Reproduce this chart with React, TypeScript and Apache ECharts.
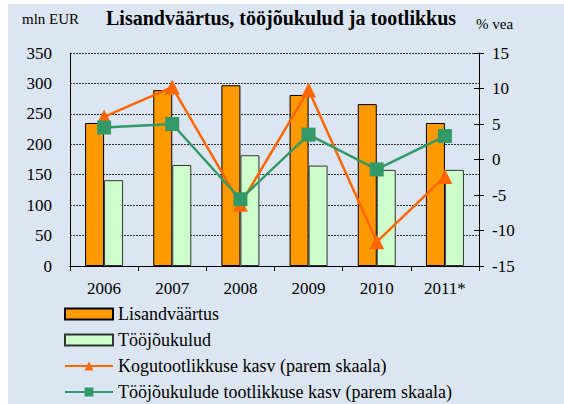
import React, { useEffect, useRef } from "react";
import * as echarts from "echarts";

const years = ["2006", "2007", "2008", "2009", "2010", "2011*"];
const lisandvaartus = [235, 289, 297, 281, 266, 235];
const toojoukulud = [141, 166, 182, 165, 158, 158];
const kogutootlikkus = [6.0, 10.2, -6.3, 9.8, -11.6, -2.4];
const toojoutootlikkus = [4.5, 5.0, -5.6, 3.5, -1.4, 3.3];

const FONT = "Liberation Serif";

export default function App() {
  const ref = useRef<HTMLDivElement>(null);
  useEffect(() => {
    document.body.style.margin = "0";
    const chart = echarts.init(ref.current!, null, { renderer: "svg" });
    chart.setOption({
      animation: false,
      backgroundColor: "#ffffff",
      textStyle: { fontFamily: FONT, color: "#000" },
      graphic: [
        {
          type: "rect",
          z: -10,
          shape: { x: 8, y: 4, width: 556, height: 400 },
          style: { fill: "#DCE6F2" },
          silent: true,
        },
        {
          type: "text",
          left: 22,
          top: 11,
          style: { text: "mln EUR", font: `15px "${FONT}"`, fill: "#000" },
        },
        {
          type: "text",
          left: 106,
          top: 8,
          style: {
            text: "Lisandväärtus, tööjõukulud ja tootlikkus",
            font: `bold 20px "${FONT}"`,
            fill: "#000",
          },
        },
        {
          type: "text",
          left: 476,
          top: 16,
          style: { text: "% vea", font: `15px "${FONT}"`, fill: "#000" },
        },
      ],
      grid: { left: 70, right: 85, top: 53, bottom: 138, containLabel: false },
      legend: {
        orient: "vertical",
        left: 64,
        top: 305,
        height: 110,
        padding: 0,
        itemWidth: 48,
        itemHeight: 11,
        itemGap: 8,
        textStyle: { fontFamily: FONT, fontSize: 18, color: "#000" },
        data: [
          { name: "Lisandväärtus", icon: "rect" },
          { name: "Tööjõukulud", icon: "rect" },
          "Kogutootlikkuse kasv (parem skaala)",
          "Tööjõukulude tootlikkuse kasv (parem skaala)",
        ],
      },
      xAxis: {
        type: "category",
        data: years,
        boundaryGap: true,
        axisLine: { show: true, lineStyle: { color: "#000", width: 1 } },
        axisTick: { show: true, length: 5, lineStyle: { color: "#000" } },
        axisLabel: { fontFamily: FONT, fontSize: 17, color: "#000", margin: 14 },
      },
      yAxis: [
        {
          type: "value",
          min: 0,
          max: 350,
          interval: 50,
          position: "left",
          axisLine: { show: true, lineStyle: { color: "#000" } },
          axisTick: { show: false },
          axisLabel: { fontFamily: FONT, fontSize: 17, color: "#000", margin: 18 },
          splitLine: { show: true, lineStyle: { color: "#333", type: [2, 1], width: 1 } },
        },
        {
          type: "value",
          min: -15,
          max: 15,
          interval: 5,
          position: "right",
          axisLine: { show: true, lineStyle: { color: "#000" } },
          axisTick: { show: true, length: 5, lineStyle: { color: "#000" } },
          axisLabel: { fontFamily: FONT, fontSize: 17, color: "#000", margin: 13 },
          splitLine: { show: false },
        },
        {
          type: "value",
          min: -15,
          max: 15,
          interval: 5,
          position: "right",
          axisLine: { show: false },
          axisTick: { show: true, inside: true, length: 5, lineStyle: { color: "#000" } },
          axisLabel: { show: false },
          splitLine: { show: false },
        },
      ],
      series: [
        {
          name: "Lisandväärtus",
          type: "bar",
          data: lisandvaartus,
          barWidth: 19,
          barGap: "0%",
          itemStyle: { color: "#FF9900", borderColor: "#000", borderWidth: 1 },
        },
        {
          name: "Tööjõukulud",
          type: "bar",
          data: toojoukulud,
          barWidth: 19,
          barGap: "0%",
          itemStyle: { color: "#CCFFCC", borderColor: "#333", borderWidth: 1 },
        },
        {
          name: "Kogutootlikkuse kasv (parem skaala)",
          type: "line",
          yAxisIndex: 1,
          data: kogutootlikkus,
          symbol: "triangle",
          symbolSize: 15,
          lineStyle: { color: "#FF6600", width: 2.5 },
          itemStyle: { color: "#FF6600" },
        },
        {
          name: "Tööjõukulude tootlikkuse kasv (parem skaala)",
          type: "line",
          yAxisIndex: 1,
          data: toojoutootlikkus,
          symbol: "rect",
          symbolSize: 14,
          lineStyle: { color: "#339966", width: 2.5 },
          itemStyle: { color: "#339966" },
        },
      ],
    });
    return () => chart.dispose();
  }, []);
  return (
    <div
      ref={ref}
      style={{ position: "fixed", left: 0, top: 0, width: 564, height: 404 }}
    />
  );
}
